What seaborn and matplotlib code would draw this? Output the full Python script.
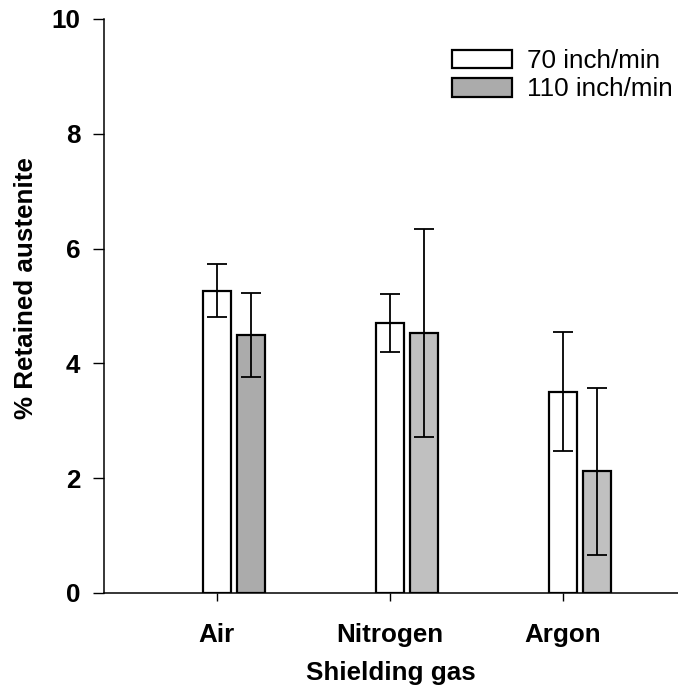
import matplotlib
matplotlib.use("Agg")
import matplotlib.pyplot as plt
import seaborn as sns
import pandas as pd
import numpy as np

gases = ["Air", "Nitrogen", "Argon"]
speeds = ["70 inch/min", "110 inch/min"]
mean_70 = [5.27, 4.70, 3.51]
mean_110 = [4.50, 4.53, 2.12]
err_70 = [0.46, 0.51, 1.04]
err_110 = [0.73, 1.81, 1.46]
y_ticks = [0, 2, 4, 6, 8, 10]

df = pd.DataFrame({
    "gas": gases * 2,
    "speed": [speeds[0]] * 3 + [speeds[1]] * 3,
    "value": mean_70 + mean_110,
    "err": err_70 + err_110,
})

sns.set_theme(style="white")
plt.rcParams["font.family"] = ["Liberation Sans", "DejaVu Sans"]
for k in ["text.color", "axes.labelcolor", "xtick.color", "ytick.color"]:
    plt.rcParams[k] = "black"

FS = 18.7

fig = plt.figure(figsize=(6.78, 6.92), dpi=100)
ax = fig.add_axes([104 / 678, 99 / 692, (678 - 104) / 678, (593 - 19) / 692])

sns.barplot(data=df, x="gas", y="value", hue="speed", order=gases, hue_order=speeds,
            palette=["white", "#c0c0c0"], width=0.393, gap=0.178, errorbar=None,
            edgecolor="black", linewidth=1.6, ax=ax, legend=True)

bars = [p for p in ax.patches if p.get_height() > 0]
bars_sorted = sorted(bars, key=lambda p: p.get_x())
for p in bars_sorted:
    if abs(p.get_x() + p.get_width() / 2 - 0.0985) < 0.05:
        p.set_facecolor("#ababab")

for p in bars_sorted:
    xc = p.get_x() + p.get_width() / 2
    h = p.get_height()
    row = df.iloc[(df["value"] - h).abs().argmin()]
    ax.errorbar(xc, h, yerr=row["err"], fmt="none", ecolor="black",
                elinewidth=1.3, capsize=7.2, capthick=1.3, zorder=5)

ax.set_ylim(0, 10)
ax.set_yticks(y_ticks)
ax.set_yticklabels([str(t) for t in y_ticks], fontsize=FS, fontweight="bold")
ax.set_xlim(-0.653 - 0.0985, 2.665 - 0.0985)
ax.set_xticks([i - 0.0985 for i in range(3)])
ax.set_xticklabels(gases, fontsize=FS, fontweight="bold")

sns.despine(ax=ax, top=True, right=True)
for s in ["left", "bottom"]:
    ax.spines[s].set_color("black")
    ax.spines[s].set_linewidth(1.1)

ax.tick_params(axis="y", direction="out", length=8, width=1.0, color="black", pad=9, left=True)
ax.tick_params(axis="x", direction="out", length=5.8, width=1.0, color="black", pad=16, bottom=True)

ax.set_ylabel("% Retained austenite", fontsize=FS, fontweight="bold")
ax.set_xlabel("Shielding gas", fontsize=FS, fontweight="bold", labelpad=10)
ax.yaxis.set_label_coords((38 - 104) / 574, (593 - 288) / 574)

leg = ax.legend(loc="upper left", bbox_to_anchor=(452 / 678, 1 - 49 / 692),
                bbox_transform=fig.transFigure, frameon=False, fontsize=FS,
                handlelength=2.3, handleheight=0.73, handletextpad=0.58,
                labelspacing=0.17, borderpad=0, borderaxespad=0, title=None)
for h in leg.get_patches():
    h.set_edgecolor("black")
    h.set_linewidth(1.6)
leg.get_patches()[1].set_facecolor("#ababab")

fig.savefig("out.png", dpi=100)
